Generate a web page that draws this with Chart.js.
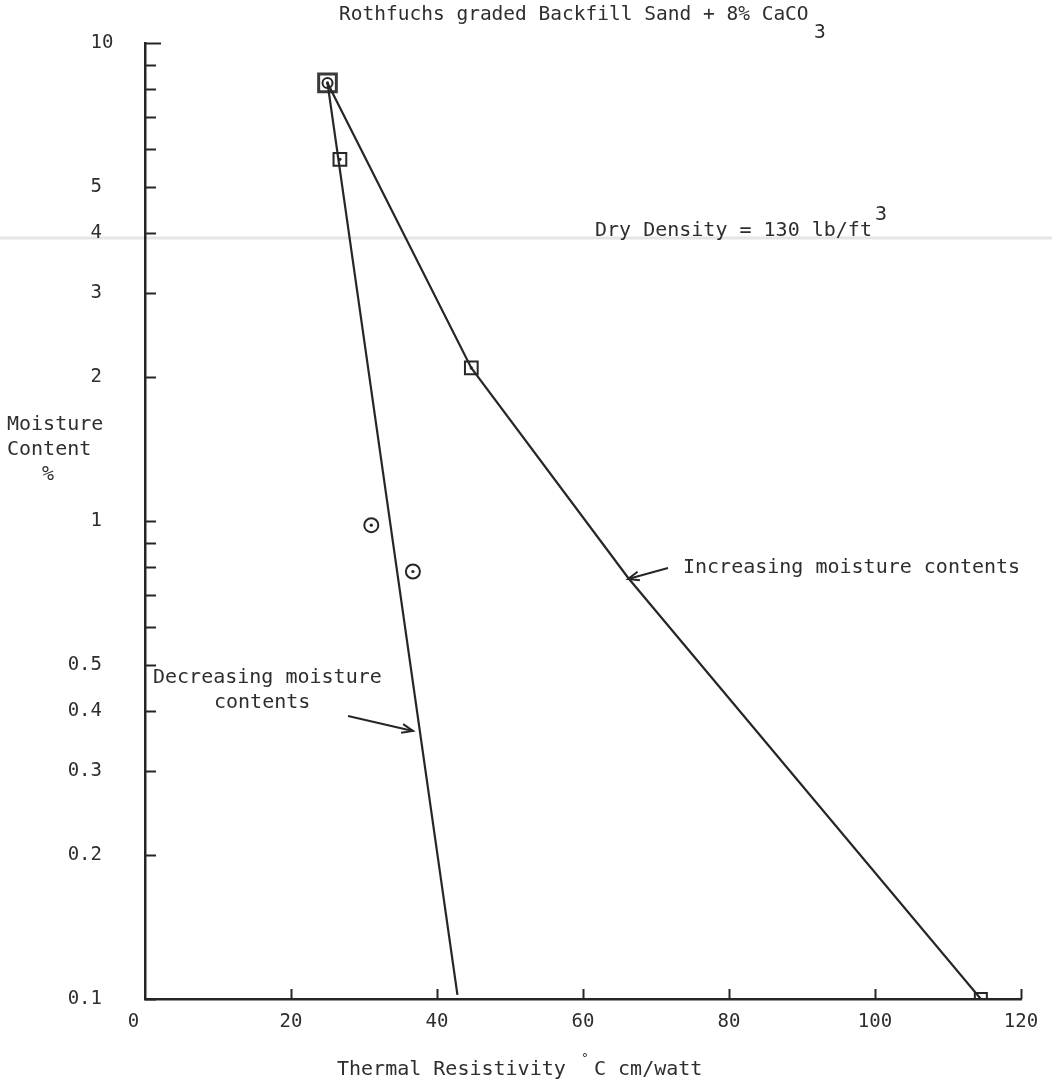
<!DOCTYPE html>
<html><head><meta charset="utf-8">
<script src="https://cdn.jsdelivr.net/npm/chart.js@4/dist/chart.umd.min.js"></script>
<style>html,body{margin:0;padding:0;background:#fff;}#wrap{width:1052px;height:1084px;position:relative;}</style>
</head><body><div id="wrap"><canvas id="c" width="1052" height="1084"></canvas></div>
<script>
// ---- data ----
const xTickValues = [0, 20, 40, 60, 80, 100, 120];
const xTickLabels = ['0', '20', '40', '60', '80', '100', '120'];
const yTickValues = [0.1,0.2,0.3,0.4,0.5,0.6,0.7,0.8,0.9,1,2,3,4,5,6,7,8,9,10];
const yTickLabels = ['0.1','0.2','0.3','0.4','0.5','','','','','1','2','3','4','5','','','','','10'];
const startPoint   = [{x:25.0, y:8.25}];
const squarePoints = [{x:26.7, y:5.71}, {x:44.7, y:2.09}];
const endSquare    = [{x:114.5, y:0.1}];
const circlePoints = [{x:31.0, y:0.98}, {x:36.7, y:0.784}];
const decreasingCurve = [{x:25.0, y:8.25}, {x:42.8, y:0.102}];
const increasingCurve = [{x:25.0, y:8.25}, {x:44.7, y:2.09}, {x:66.2, y:0.76}, {x:114.5, y:0.1}];

const FONT = "'DejaVu Sans Mono', 'Liberation Mono', monospace";
const INK = '#262626';

const dotPoints = [...startPoint, ...squarePoints, ...circlePoints];

const decor = {
  id: 'decor',
  afterDraw(chart) {
    const {ctx, scales:{x, y}, chartArea:a} = chart;
    ctx.save();
    // inner tick marks
    ctx.strokeStyle = INK; ctx.lineWidth = 2;
    yTickValues.forEach(v => {
      const py = Math.round(y.getPixelForValue(v)) + 0.5;
      const len = v === 10 ? 16 : 11;
      ctx.beginPath(); ctx.moveTo(a.left, py); ctx.lineTo(a.left + len, py); ctx.stroke();
    });
    xTickValues.forEach(v => {
      if (v === 0) return;
      const px = Math.round(x.getPixelForValue(v)) + 0.5;
      ctx.beginPath(); ctx.moveTo(px, a.bottom); ctx.lineTo(px, a.bottom - 10); ctx.stroke();
    });
    // texts
    ctx.fillStyle = '#2e2e2e';
    ctx.textBaseline = 'middle'; ctx.textAlign = 'left';
    ctx.font = `19.5px ${FONT}`;
    ctx.fillText('Rothfuchs graded Backfill Sand + 8% CaCO', 339, 15);
    ctx.fillText('3', 814, 33);
    ctx.font = `20px ${FONT}`;
    ctx.fillText('Dry Density = 130 lb/ft', 595, 231);
    ctx.fillText('3', 875, 215);
    ctx.fillText('Increasing moisture contents', 683, 568);
    ctx.fillText('Decreasing moisture', 153, 678);
    ctx.fillText('contents', 214, 703);
    ctx.fillText('Moisture', 7, 425);
    ctx.fillText('Content', 7, 450);
    ctx.fillText('%', 42, 475);
    ctx.fillText('Thermal Resistivity', 337, 1070);
    ctx.fillText('C cm/watt', 594, 1070);
    ctx.font = `13px ${FONT}`;
    ctx.fillText('°', 581, 1059);
    // arrows
    const arrow = (x1, y1, x2, y2) => {
      ctx.beginPath(); ctx.moveTo(x1, y1); ctx.lineTo(x2, y2); ctx.stroke();
      const ang = Math.atan2(y2 - y1, x2 - x1), h = 12, s = 0.38;
      ctx.beginPath();
      ctx.moveTo(x2 - h*Math.cos(ang - s), y2 - h*Math.sin(ang - s));
      ctx.lineTo(x2, y2);
      ctx.lineTo(x2 - h*Math.cos(ang + s), y2 - h*Math.sin(ang + s));
      ctx.stroke();
    };
    ctx.lineWidth = 2; ctx.strokeStyle = INK;
    arrow(668, 568, 628, 579);
    arrow(348, 716, 413, 731);
    // faint scan line
    ctx.strokeStyle = 'rgba(0,0,0,0.10)'; ctx.lineWidth = 3;
    ctx.beginPath(); ctx.moveTo(0, 238); ctx.lineTo(1052, 238); ctx.stroke();
    ctx.restore();
  }
};

new Chart(document.getElementById('c'), {
  type: 'scatter',
  data: {
    datasets: [
      {data: decreasingCurve, showLine: true, borderColor: INK, borderWidth: 2.2, pointRadius: 0, tension: 0},
      {data: increasingCurve, showLine: true, borderColor: INK, borderWidth: 2.2, pointRadius: 0, tension: 0},
      {data: startPoint, pointStyle: 'rect', pointRadius: 12.5, borderColor: '#3a3a3a', borderWidth: 3, backgroundColor: 'rgba(0,0,0,0)'},
      {data: startPoint, pointStyle: 'circle', pointRadius: 5, borderColor: INK, borderWidth: 2, backgroundColor: 'rgba(0,0,0,0)'},
      {data: squarePoints, pointStyle: 'rect', pointRadius: 9, borderColor: INK, borderWidth: 2, backgroundColor: 'rgba(0,0,0,0)'},
      {data: endSquare, pointStyle: 'rect', pointRadius: 8.5, borderColor: INK, borderWidth: 2, backgroundColor: 'rgba(0,0,0,0)'},
      {data: circlePoints, pointStyle: 'circle', pointRadius: 7, borderColor: INK, borderWidth: 2, backgroundColor: 'rgba(0,0,0,0)'},
      {data: dotPoints, pointStyle: 'circle', pointRadius: 1.6, borderWidth: 0, backgroundColor: INK}
    ]
  },
  options: {
    responsive: false, animation: false,
    layout: {padding: {top: 39, right: 31, left: 0, bottom: 0}},
    plugins: {legend: {display: false}, tooltip: {enabled: false}},
    scales: {
      x: {
        type: 'linear', min: 0, max: 120,
        afterBuildTicks: s => { s.ticks = xTickValues.map(v => ({value: v})); },
        afterFit: s => { s.height = 85; },
        grid: {display: false, drawTicks: false},
        border: {display: true, color: INK, width: 2.5},
        ticks: {font: {family: FONT, size: 19}, color: '#2e2e2e', padding: 12, autoSkip: false, maxRotation: 0,
                callback: (v, i) => xTickLabels[i] + (i === 0 ? '\u00a0\u00a0' : '')}
      },
      y: {
        type: 'logarithmic', min: 0.1, max: 10,
        afterBuildTicks: s => { s.ticks = yTickValues.map(v => ({value: v})); },
        afterFit: s => { s.width = 145; },
        grid: {display: false, drawTicks: false},
        border: {display: true, color: INK, width: 2.5},
        ticks: {font: {family: FONT, size: 19}, color: '#2e2e2e', padding: 31.6, autoSkip: false,
                callback: (v, i) => yTickLabels[i] === '' ? '' : (yTickLabels[i] === '10' ? '10' : yTickLabels[i] + '\u00a0')}
      }
    }
  },
  plugins: [decor]
});
</script></body></html>
